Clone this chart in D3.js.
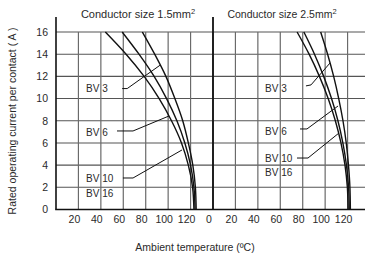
<!DOCTYPE html>
<html>
<head>
<meta charset="utf-8">
<script src="https://cdn.jsdelivr.net/npm/d3@7"></script>
<style>
  body { margin: 0; background: #fff; }
  svg { display: block; }
  text { font-family: "Liberation Sans", Arial, sans-serif; fill: #2a2a2a; }
</style>
</head>
<body>
<div id="chart"></div>
<script>
// current steps (A)
var currents = [16, 14, 12, 10, 8, 6, 4, 2, 0];

// temperature (C) at each current
var left_bv3  = [77, 88, 98, 106, 113, 118, 122, 124.3, 125];
var left_bv6  = [59, 74, 87.5, 98.6, 107.8, 114.9, 120, 123, 124];
var left_bv10 = [44, 62.5, 78.6, 92, 103, 111.9, 118, 121.8, 123];

var right_bv3  = [96, 102.2, 107.6, 112.1, 115.9, 118.8, 120.8, 122.1, 122.5];
var right_bv6  = [81, 90.5, 98.7, 105.7, 111.4, 115.8, 119, 120.9, 121.5];
var right_bv10 = [75, 85.7, 94.9, 102.7, 109.1, 114.1, 117.7, 119.8, 120.5];

var yTicks = [0, 2, 4, 6, 8, 10, 12, 14, 16];
var xTicks = [20, 40, 60, 80, 100, 120];
var gridTemps = [20, 40, 60, 80, 100, 120, 140];

var titles = ["Conductor size 1.5mm", "Conductor size 2.5mm"];

// label text, position [temp, current], leader [temp, current] points
var leftLabels = [
  {name: "BV 3",  at: [26.8, 10.6], lead: [[59, 10.9], [63.5, 10.9], [92.7, 13.0]]},
  {name: "BV 6",  at: [26.8, 6.63], lead: [[54.4, 7.08], [68.7, 7.08], [100.8, 8.43]]},
  {name: "BV 10", at: [26.8, 2.48], lead: [[59.7, 2.84], [68.7, 2.84], [112.4, 5.37]]},
  {name: "BV 16", at: [26.8, 1.13], lead: null}
];
var rightLabels = [
  {name: "BV 3",  at: [46.4, 10.6], lead: [[82.9, 11.14], [87.4, 11.23], [104.3, 13.2]]},
  {name: "BV 6",  at: [46.4, 6.7],  lead: [[77.6, 7.26], [83.8, 7.26], [111.5, 9.33]]},
  {name: "BV 10", at: [46.4, 4.28], lead: [[74.9, 4.64], [84.7, 4.64], [112.4, 6.9]]},
  {name: "BV 16", at: [46.4, 3.0],  lead: null}
];

var width = 365, height = 257;

var svg = d3.select("#chart").append("svg")
    .attr("width", width)
    .attr("height", height);

var y = d3.scaleLinear().domain([0, 16]).range([209.5, 32]);
var xLeft = d3.scaleLinear().domain([0, 140]).range([56, 213]);
var xRight = d3.scaleLinear().domain([0, 140]).range([213, 370]);

var grid = svg.append("g");

// horizontal grid
grid.selectAll("line.h")
  .data(yTicks.slice(1))
  .enter().append("line")
    .attr("x1", xLeft(0)).attr("x2", width)
    .attr("y1", function(d) { return y(d); })
    .attr("y2", function(d) { return y(d); })
    .style("stroke", "#555")
    .style("stroke-width", 1.1);

// vertical grid, both panels
[xLeft, xRight].forEach(function(x) {
  grid.selectAll(null)
    .data(gridTemps)
    .enter().append("line")
      .attr("x1", function(d) { return x(d); })
      .attr("x2", function(d) { return x(d); })
      .attr("y1", y(16)).attr("y2", y(0))
      .style("stroke", "#6a6a6a")
      .style("stroke-width", 1.2);
});

// axis lines
svg.append("line")
  .attr("x1", xLeft(0)).attr("x2", xLeft(0))
  .attr("y1", 17).attr("y2", y(0))
  .style("stroke", "#111").style("stroke-width", 1.6);
svg.append("line")
  .attr("x1", xRight(0)).attr("x2", xRight(0))
  .attr("y1", 17).attr("y2", y(0))
  .style("stroke", "#111").style("stroke-width", 1.8);
svg.append("line")
  .attr("x1", xLeft(0) - 0.8).attr("x2", width)
  .attr("y1", y(0)).attr("y2", y(0))
  .style("stroke", "#111").style("stroke-width", 1.6);

// y tick labels
svg.selectAll("text.ytick")
  .data(yTicks)
  .enter().append("text")
    .attr("x", 48)
    .attr("y", function(d) { return y(d) + 3.8; })
    .attr("text-anchor", "end")
    .style("font-size", "10.5px")
    .text(function(d) { return d; });

// x tick labels
function xLabels(x, ticks) {
  svg.selectAll(null)
    .data(ticks)
    .enter().append("text")
      .attr("x", function(d) { return x(d) - 4; })
      .attr("y", 223)
      .attr("text-anchor", "middle")
      .style("font-size", "10.5px")
      .text(function(d) { return d; });
}
xLabels(xLeft, xTicks);
xLabels(xRight, [0].concat(xTicks));

// curves
var line = function(x) {
  return d3.line()
    .x(function(d) { return x(d[0]); })
    .y(function(d) { return y(d[1]); })
    .curve(d3.curveMonotoneY);
};

function drawCurve(x, temps) {
  var pts = temps.map(function(t, i) { return [t, currents[i]]; });
  svg.append("path")
    .attr("d", line(x)(pts))
    .style("fill", "none")
    .style("stroke", "#111")
    .style("stroke-width", 1.4);
}
[left_bv3, left_bv6, left_bv10].forEach(function(s) { drawCurve(xLeft, s); });
[right_bv3, right_bv6, right_bv10].forEach(function(s) { drawCurve(xRight, s); });

// BV labels and leaders
function drawLabels(x, labels) {
  labels.forEach(function(l) {
    svg.append("text")
      .attr("x", x(l.at[0]))
      .attr("y", y(l.at[1]))
      .style("font-size", "10px")
      .text(l.name);
    if (l.lead) {
      svg.append("path")
        .attr("d", d3.line()
          .x(function(d) { return x(d[0]); })
          .y(function(d) { return y(d[1]); })(l.lead))
        .style("fill", "none")
        .style("stroke", "#111")
        .style("stroke-width", 1);
    }
  });
}
drawLabels(xLeft, leftLabels);
drawLabels(xRight, rightLabels);

// panel titles
var t1 = svg.append("text")
  .attr("x", 138).attr("y", 18)
  .attr("text-anchor", "middle")
  .style("font-size", "11px");
t1.append("tspan").text(titles[0]);
t1.append("tspan").attr("dy", -4).style("font-size", "7.5px").text("2");

var t2 = svg.append("text")
  .attr("x", 282).attr("y", 18)
  .attr("text-anchor", "middle")
  .style("font-size", "10.5px");
t2.append("tspan").text(titles[1]);
t2.append("tspan").attr("dy", -4).style("font-size", "7.5px").text("2");

// axis titles
svg.append("text")
  .attr("transform", "translate(16,121) rotate(-90)")
  .attr("text-anchor", "middle")
  .style("font-size", "10.5px")
  .text("Rated operating current per contact ( A )");

svg.append("text")
  .attr("x", 195).attr("y", 251)
  .attr("text-anchor", "middle")
  .style("font-size", "10.5px")
  .text("Ambient temperature (ºC)");
</script>
</body>
</html>
